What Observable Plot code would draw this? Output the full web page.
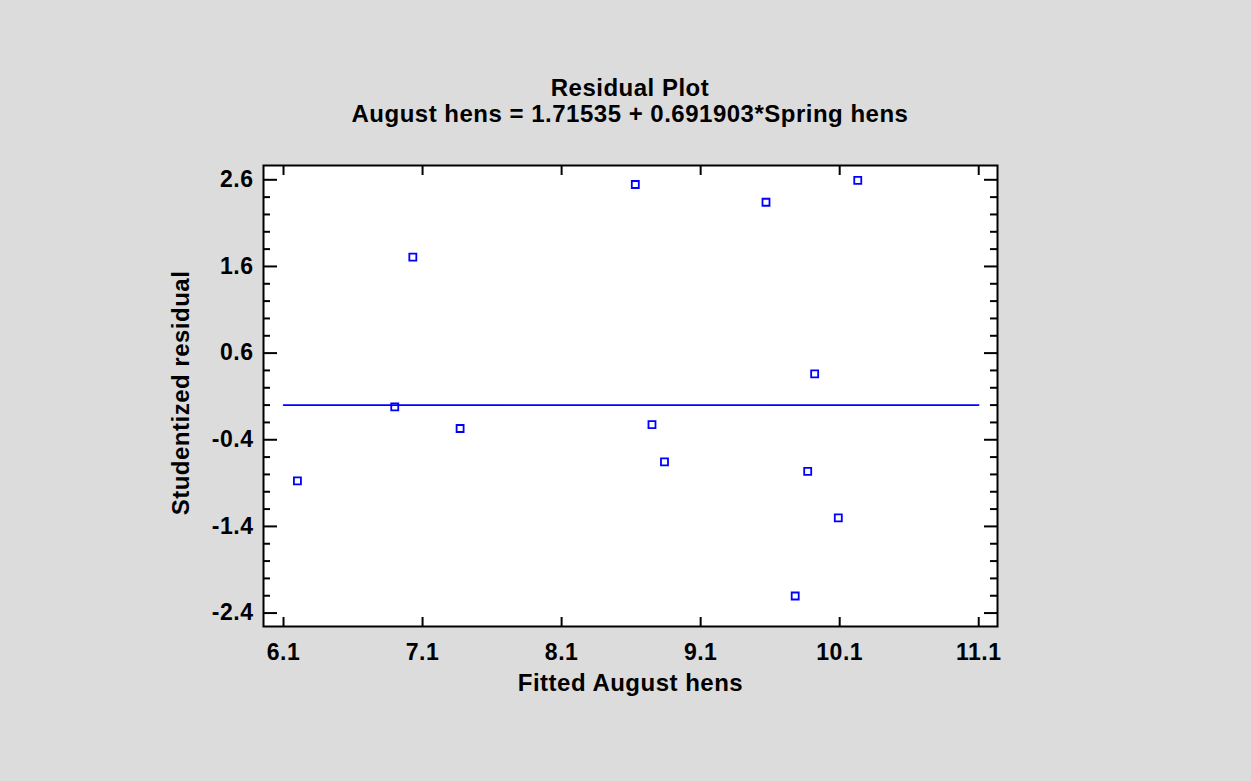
<!DOCTYPE html>
<html>
<head>
<meta charset="utf-8">
<script src="https://cdn.jsdelivr.net/npm/d3@7"></script>
<script src="https://cdn.jsdelivr.net/npm/@observablehq/plot@0.6"></script>
<style>
  body { margin: 0; background: #dcdcdc; }
  #chart { width: 1251px; height: 781px; background: #dcdcdc; font-family: "Liberation Sans", Arial, sans-serif; font-weight: bold; color: #000; }
  #chart header { position: relative; height: 140px; }
  #chart header div { position: absolute; left: 0; width: 1251px; padding-left: 9px; box-sizing: border-box; text-align: center; font-size: 24px; line-height: 26px; letter-spacing: 0.5px; }
  #plot svg text { letter-spacing: 0.5px; }
</style>
</head>
<body>
<div id="chart">
  <header>
    <div id="title" style="top:75px"></div>
    <div id="subtitle" style="top:101px"></div>
  </header>
  <div id="plot"></div>
</div>
<script>
// Regression residuals: fitted August hens vs studentized residual
const titleText = "Residual Plot";
const subtitleText = "August hens = 1.71535 + 0.691903*Spring hens";
const xLabel = "Fitted August hens";
const yLabel = "Studentized residual";

const fittedAugustHens = [6.20, 6.90, 7.03, 7.37, 8.63, 8.75, 8.84, 9.57, 9.78, 9.87, 9.92, 10.09, 10.23];
const studentizedResiduals = [-0.875, -0.02, 1.707, -0.27, 2.546, -0.225, -0.655, 2.341, -2.203, -0.764, 0.36, -1.302, 2.594];

// zero-residual reference line
const refLineX = [6.1, 11.1];
const refLineY = [0, 0];

const xTicks = [6.1, 7.1, 8.1, 9.1, 10.1, 11.1];
const yTicks = [2.6, 1.6, 0.6, -0.4, -1.4, -2.4];
const yMinorTicks = [2.4, 2.2, 2.0, 1.8, 1.4, 1.2, 1.0, 0.8, 0.4, 0.2, 0.0, -0.2, -0.6, -0.8, -1.0, -1.2, -1.6, -1.8, -2.0, -2.2];

document.getElementById("title").textContent = titleText;
document.getElementById("subtitle").textContent = subtitleText;

const points = fittedAugustHens.map((x, i) => ({x, y: studentizedResiduals[i]}));
const refLine = refLineX.map((x, i) => ({x, y: refLineY[i]}));

const W = 1251, H = 641;
const mL = 263, mR = 254, mT = 25, mB = 155;
const frameW = W - mL - mR, frameH = H - mT - mB;
const ink = {stroke: "black", strokeWidth: 2};

const chart = Plot.plot({
  width: W,
  height: H,
  marginLeft: mL,
  marginRight: mR,
  marginTop: mT,
  marginBottom: mB,
  style: {background: "transparent", fontFamily: "'Liberation Sans', Arial, sans-serif", fontWeight: "bold", fontSize: "23px", color: "black"},
  x: {domain: [5.956, 11.235]},
  y: {domain: [-2.555, 2.765]},
  marks: [
    Plot.frame({fill: "white", stroke: null}),
    // minor ticks on the left and right edges
    Plot.tickY(yMinorTicks, {y: d => d, insetRight: frameW - 7, ...ink}),
    Plot.tickY(yMinorTicks, {y: d => d, insetLeft: frameW - 7, ...ink}),
    // major ticks, all pointing inward
    Plot.tickY(yTicks, {y: d => d, insetRight: frameW - 14, ...ink}),
    Plot.tickY(yTicks, {y: d => d, insetLeft: frameW - 13, ...ink}),
    Plot.tickX(xTicks, {x: d => d, insetTop: frameH - 9, ...ink}),
    Plot.tickX(xTicks, {x: d => d, insetBottom: frameH - 10, ...ink}),
    Plot.axisY(yTicks, {tickSize: 0, tickPadding: 10, tickFormat: d => d.toFixed(1), label: null, fontSize: 23, fontWeight: "bold"}),
    Plot.axisX(xTicks, {tickSize: 0, tickPadding: 17, tickFormat: d => d.toFixed(1), label: null, fontSize: 23, fontWeight: "bold"}),
    Plot.line(refLine, {x: "x", y: "y", stroke: "#0000ff", strokeWidth: 1.6}),
    Plot.dot(points, {x: "x", y: "y", symbol: "square", r: 3.95, stroke: "#0000ff", strokeWidth: 1.8, fill: "none"}),
    Plot.text([xLabel], {frameAnchor: "bottom", lineAnchor: "top", dy: 47, fontSize: 24, fontWeight: "bold", fill: "black"}),
    Plot.text([yLabel], {frameAnchor: "left", rotate: -90, textAnchor: "middle", lineAnchor: "middle", dx: -82, dy: -3, fontSize: 24, fontWeight: "bold", fill: "black"}),
    Plot.frame({stroke: "black", strokeWidth: 2})
  ]
});
document.getElementById("plot").appendChild(chart);
</script>
</body>
</html>
